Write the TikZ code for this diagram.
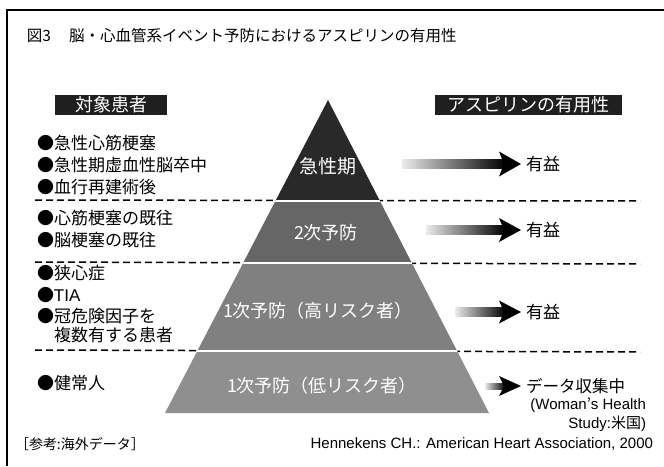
\documentclass[tikz,border=0pt]{standalone}
\usepackage{fontspec}
\setmainfont{Noto Sans CJK JP}
\newfontfamily\lat{Liberation Sans}
\usetikzlibrary{calc}
\newcommand\fs[1]{\fontsize{#1}{#1}\selectfont}
\newcommand\barrow[4]{%
  \shade[left color=black!8, right color=black] ([yshift=#4pt]#1) rectangle ([xshift=-16pt,yshift=-#4pt]#2);
  \fill[black] ([xshift=-22pt,yshift=#3pt]#2) -- (#2) -- ([xshift=-22pt,yshift=-#3pt]#2) -- ([xshift=-17pt]#2) -- cycle;}
\begin{document}
\begin{tikzpicture}[x=1pt,y=-1pt,
  every node/.style={inner sep=0pt, outer sep=0pt},
  listitem/.style={anchor=west, font=\fs{17}, align=left},
  sepline/.style={line width=1.5pt, dash pattern=on 7pt off 4pt},
  hdr/.style={fill=black!88, text=white, font=\fs{18}, minimum height=20pt},
  pyrtext/.style={text=white, font=\fs{18}},
  rlabel/.style={anchor=west, font=\fs{17}}]
\useasboundingbox (0,0) rectangle (664,466);
\fill[white] (0,0) rectangle (664,466);
% frame
\draw[line width=1.3pt] (7,466) -- (7,10) -- (664,10);
% title
\node[anchor=west, font=\fs{15.5}] (title) at (27,36) {図3\hspace{18pt}脳・心血管系イベント予防におけるアスピリンの有用性};
% headers
\node[hdr, minimum width=112pt] (hleft) at (111,105) {対象患者};
\node[hdr, minimum width=187pt] (hright) at (528.5,105) {アスピリンの有用性};
% dashed separators
\coordinate (d1a) at (35,200); \coordinate (d1b) at (640,201);
\coordinate (d2a) at (35,262); \coordinate (d2b) at (640,264);
\coordinate (d3a) at (35,350); \coordinate (d3b) at (640,352);
\draw[sepline] (d1a) -- (d1b);
\draw[sepline] (d2a) -- (d2b);
\draw[sepline] (d3a) -- (d3b);
% pyramid
\begin{scope}
\clip (328,100) -- (489,413) -- (165,413) -- cycle;
\fill[black!84] (150,95) rectangle (500,201);
\fill[black!60] (150,201) rectangle (500,263);
\fill[black!50] (150,263) rectangle (500,351);
\fill[black!44] (150,351) rectangle (500,415);
\draw[white, line width=1.6pt] (150,201) -- (500,201);
\draw[white, line width=1.6pt] (150,263) -- (500,263);
\draw[white, line width=1.6pt] (150,351) -- (500,351);
\end{scope}
\node[pyrtext, font=\fs{19}] (p1) at (328,166) {急性期};
\node[pyrtext] (p2) at (326,233) {2次予防};
\node[pyrtext] (p3) at (318,311) {1次予防（高リスク者）};
\node[pyrtext] (p4) at (322,386) {1次予防（低リスク者）};
% left list
\node[listitem] (l1) at (37,143) {●急性心筋梗塞};
\node[listitem] (l2) at (37,165) {●急性期虚血性脳卒中};
\node[listitem] (l3) at (37,187) {●血行再建術後};
\node[listitem] (l4) at (37,218) {●心筋梗塞の既往};
\node[listitem] (l5) at (37,240) {●脳梗塞の既往};
\node[listitem] (l6) at (37,273) {●狭心症};
\node[listitem] (l7) at (37,295) {●{\lat TIA}};
\node[listitem] (l8) at (37,316) {●冠危険因子を};
\node[listitem] (l9) at (54,335) {複数有する患者};
\node[listitem] (l10) at (37,383) {●健常人};
% right labels
\node[rlabel] (r1) at (526,164) {有益};
\node[rlabel] (r2) at (526,230) {有益};
\node[rlabel] (r3) at (526,312) {有益};
\node[rlabel, font=\fs{16.5}] (r4) at (526,386) {データ収集中};
\node[anchor=east, font=\fs{15}] (r5) at (646,405) {{\lat (Woman}’{\lat s Health}};
\node[anchor=east, font=\fs{15}] (r6) at (646,424) {{\lat Study:}米国{\lat )}};
% arrows
\coordinate (s1) at (402,163); \coordinate (t1) at ($(r1.west)+(-5,0)$);
\coordinate (s2) at (426,229); \coordinate (t2) at ($(r2.west)+(-5,0)$);
\coordinate (s3) at (455,311); \coordinate (t3) at ($(r3.west)+(-5,0)$);
\coordinate (s4) at (485,387); \coordinate (t4) at ($(r4.west)+(-5,0)$);
\barrow{s1}{t1}{12.5}{4}
\barrow{s2}{t2}{12}{4}
\barrow{s3}{t3}{11.5}{4}
\barrow{s4}{t4}{10}{3.5}
% footer
\node[anchor=west, font=\fs{14}] (f1) at (15,444) {［参考:海外データ］};
\node[anchor=east, font=\fs{15}\lat] (f2) at (653,444) {Hennekens CH.: American Heart Association, 2000};
\end{tikzpicture}
\end{document}
